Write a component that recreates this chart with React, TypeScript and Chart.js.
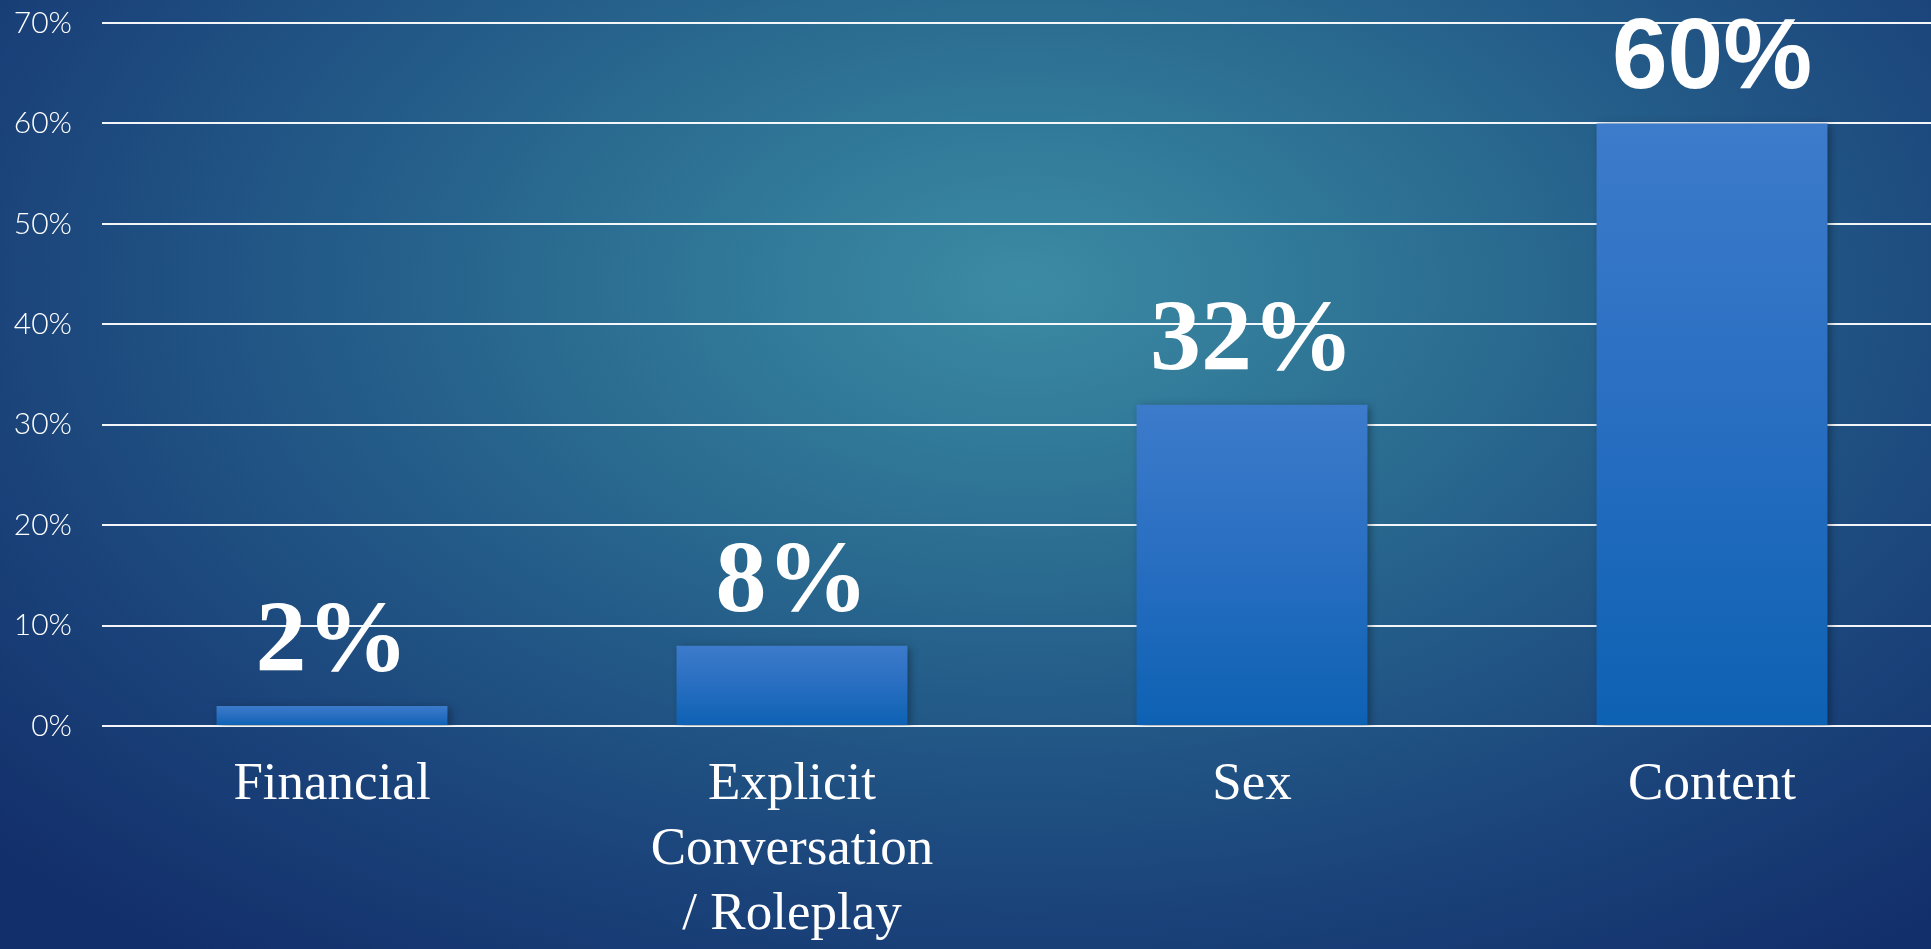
import React, { useEffect, useRef } from "react";
import { Chart, registerables } from "chart.js";

Chart.register(...registerables);

const categories: (string | string[])[] = [
  "Financial",
  ["Explicit", "Conversation", "/ Roleplay"],
  "Sex",
  "Content",
];
const shares: number[] = [2, 8, 32, 60];
const yTicks: number[] = [0, 10, 20, 30, 40, 50, 60, 70];

const valueFonts: string[] = [
  "bold 102px 'Liberation Serif'",
  "bold 102px 'Liberation Serif'",
  "bold 102px 'Liberation Serif'",
  "bold 100px 'Liberation Sans'",
];

const valueLabels = {
  id: "valueLabels",
  beforeDatasetsDraw(chart: any) {
    const ctx = chart.ctx;
    ctx.save();
    ctx.shadowColor = "rgba(0,0,0,0.35)";
    ctx.shadowBlur = 8;
    ctx.shadowOffsetX = 3;
    ctx.shadowOffsetY = 2;
  },
  afterDatasetsDraw(chart: any) {
    const ctx = chart.ctx;
    ctx.restore();
    const meta = chart.getDatasetMeta(0);
    ctx.save();
    ctx.fillStyle = "#ffffff";
    ctx.textAlign = "center";
    ctx.textBaseline = "alphabetic";
    meta.data.forEach((bar: any, i: number) => {
      ctx.font = valueFonts[i];
      ctx.fillText(shares[i] + "%", bar.x, bar.y - 35);
    });
    ctx.restore();
  },
};

export default function App() {
  const ref = useRef<HTMLCanvasElement | null>(null);

  useEffect(() => {
    if (!ref.current) return;
    const chart = new Chart(ref.current, {
      type: "bar",
      data: {
        labels: categories,
        datasets: [
          {
            data: shares,
            backgroundColor: (c: any) => {
              const ch = c.chart;
              const area = ch.chartArea;
              if (!area || c.parsed == null) return "#2a6fc0";
              const ys = ch.scales.y;
              const top = ys.getPixelForValue(c.parsed.y);
              const bottom = ys.getPixelForValue(0);
              const g = ch.ctx.createLinearGradient(0, top, 0, bottom);
              g.addColorStop(0, "#3d7bcb");
              g.addColorStop(0.45, "#2a6fc2");
              g.addColorStop(1, "#0d61b3");
              return g;
            },
            borderWidth: 0,
            categoryPercentage: 1,
            barPercentage: 0.502,
          },
        ],
      },
      options: {
        animation: false,
        responsive: false,
        devicePixelRatio: 1,
        layout: { padding: { top: 23, left: 0, right: 0, bottom: 0 } },
        plugins: {
          legend: { display: false },
          tooltip: { enabled: false },
        },
        scales: {
          x: {
            grid: { display: false, drawTicks: false },
            border: { display: false },
            ticks: {
              color: "#ffffff",
              font: { family: "'Liberation Serif'", size: 53, lineHeight: 1.23 },
              padding: 26,
              autoSkip: false,
              maxRotation: 0,
              minRotation: 0,
            },
            afterFit: (s: any) => {
              s.height = 949 - 726;
              s.paddingLeft = 0;
              s.paddingRight = 0;
            },
          },
          y: {
            min: 0,
            max: 70,
            afterBuildTicks: (s: any) => {
              s.ticks = yTicks.map((v) => ({ value: v }));
            },
            grid: {
              color: "rgba(255,255,255,0.95)",
              lineWidth: 2,
              drawTicks: false,
            },
            border: { display: false },
            ticks: {
              color: "#ffffff",
              font: { family: "Lato", size: 30, weight: "300" as any },
              padding: 30,
              callback: (v: any) => v + "%",
            },
            afterFit: (s: any) => {
              s.width = 102;
              s.paddingTop = 0;
              s.paddingBottom = 0;
            },
          },
        },
      },
      plugins: [valueLabels],
    });
    return () => chart.destroy();
  }, []);

  return (
    <div
      style={{
        position: "fixed",
        left: 0,
        top: 0,
        width: 1931,
        height: 949,
        overflow: "hidden",
        background:
          "radial-gradient(ellipse 72% 88% at 53% 30%, #3c8ba4 0%, #307797 22%, #245d89 48%, #1b447b 74%, #132f6b 100%)",
      }}
    >
      <canvas ref={ref} width={1942} height={949} style={{ width: 1942, height: 949, display: "block" }} />
    </div>
  );
}
